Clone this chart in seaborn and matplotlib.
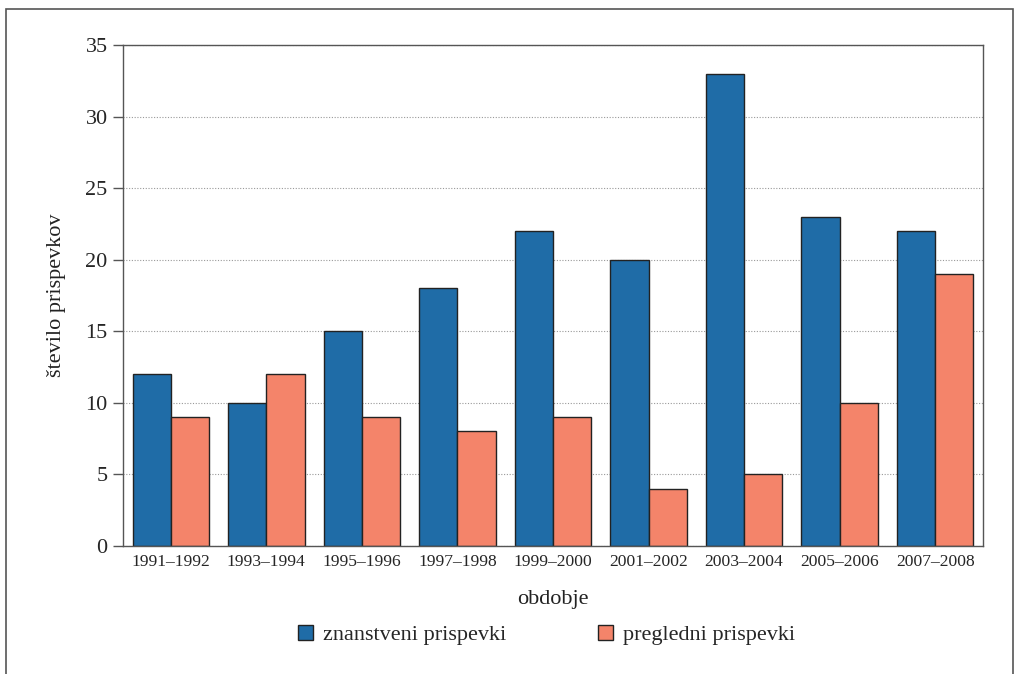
import pandas as pd
import matplotlib
matplotlib.use("Agg")
import matplotlib.pyplot as plt
from matplotlib.patches import Rectangle, Patch
import seaborn as sns

# ─── Podatki ────────────────────────────────────────────────────────────────
obdobja = ["1991–1992", "1993–1994", "1995–1996", "1997–1998", "1999–2000",
           "2001–2002", "2003–2004", "2005–2006", "2007–2008"]
znanstveni = [12, 10, 15, 18, 22, 20, 33, 23, 22]
pregledni = [9, 12, 9, 8, 9, 4, 5, 10, 19]
serije = ["znanstveni prispevki", "pregledni prispevki"]
BARVE = ["#1f6ca7", "#f4846a"]

df = pd.DataFrame({
    "obdobje": obdobja * 2,
    "vrsta": [serije[0]] * len(obdobja) + [serije[1]] * len(obdobja),
    "stevilo": znanstveni + pregledni,
})

sns.set_style("white")
plt.rcParams["font.family"] = ["Liberation Serif", "DejaVu Serif"]

fig = plt.figure(figsize=(10.2, 6.74), dpi=100)
ax = fig.add_axes([0.1206, 0.19, 0.8431, 0.7432])

sns.barplot(data=df, x="obdobje", y="stevilo", hue="vrsta", order=obdobja,
            hue_order=serije, palette=BARVE, width=0.8, edgecolor="#222222",
            linewidth=1.0, saturation=1, ax=ax, legend=False)

ax.set_xlim(-0.5, len(obdobja) - 0.5)
ax.set_ylim(0, 35)
ax.set_yticks(range(0, 36, 5))
ax.yaxis.grid(True, linestyle=(0, (1, 1.5)), color="#999999", linewidth=0.8)
ax.set_axisbelow(True)
for s in ax.spines.values():
    s.set_visible(True)
    s.set_color("#555555")
    s.set_linewidth(1.0)
ax.tick_params(axis="y", length=7, width=1.0, color="#555555", labelsize=16,
               direction="out", left=True, pad=4)
ax.tick_params(axis="x", length=0, labelsize=12.6, pad=6)
ax.set_xlabel("obdobje", fontsize=16, labelpad=14, color="#222222")
ax.set_ylabel("število prispevkov", fontsize=16, labelpad=14, color="#222222")

handles = [Patch(facecolor=c, edgecolor="#222222", linewidth=1.0) for c in BARVE]
fig.legend(handles, serije, loc="center", bbox_to_anchor=(0.536, 0.058), ncol=2,
           frameon=False, fontsize=16, handlelength=0.7, handleheight=0.7,
           handletextpad=0.45, columnspacing=4.1)

# okvir okoli slike
fig.patches.append(Rectangle((0.006, -0.05), 0.987, 1.036, transform=fig.transFigure,
                             fill=False, edgecolor="#555555", linewidth=1.2))

plt.savefig("out.png", dpi=100)
plt.close()
